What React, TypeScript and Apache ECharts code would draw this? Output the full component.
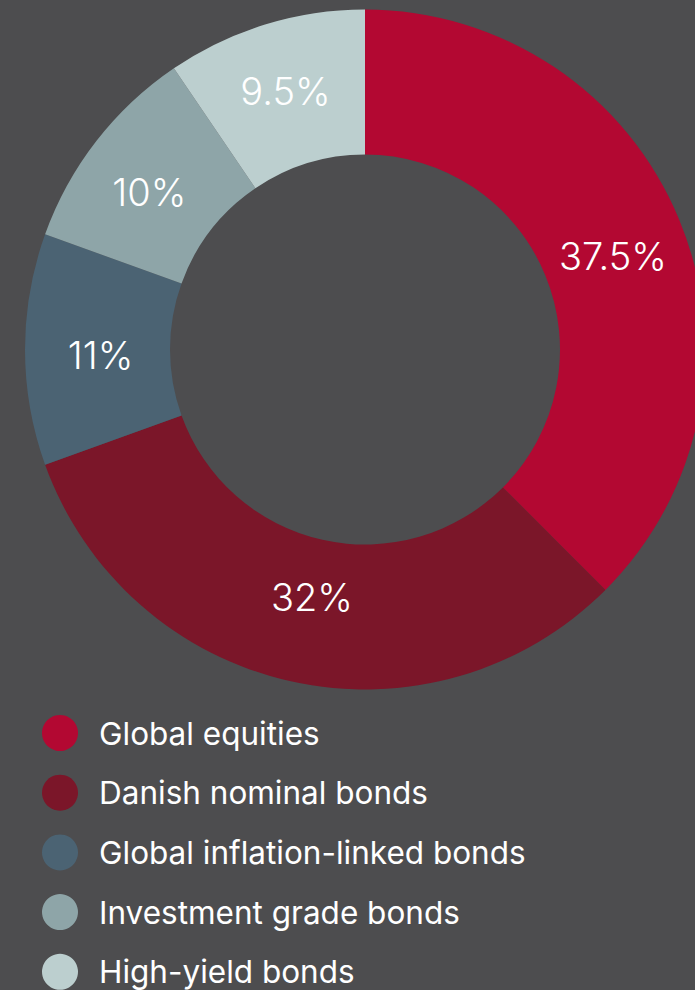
import React, { useEffect, useRef } from "react";
import * as echarts from "echarts";

const categories = [
  "Global equities",
  "Danish nominal bonds",
  "Global inflation-linked bonds",
  "Investment grade bonds",
  "High-yield bonds",
];
const values = [37.5, 32, 11, 10, 9.5];
const labels = ["37.5%", "32%", "11%", "10%", "9.5%"];
const colors = ["#b30832", "#7b1629", "#4b6373", "#8ea5a8", "#bccfcf"];
const labelOffsets = [[-2, 10], [6, -16], [6, 5], [-2, 8], [0, 0]];

export default function App() {
  const ref = useRef<HTMLDivElement>(null);
  useEffect(() => {
    if (!ref.current) return;
    const chart = echarts.init(ref.current, undefined, { renderer: "svg" });
    chart.setOption({
      animation: false,
      backgroundColor: "#4d4d4f",
      color: colors,
      legend: {
        orient: "vertical",
        left: 42,
        top: 715,
        height: 280,
        padding: 0,
        icon: "circle",
        itemWidth: 36,
        itemHeight: 36,
        itemGap: 23.7,
        selectedMode: false,
        textStyle: {
          color: "#ffffff",
          fontFamily: "Inter",
          fontSize: 31.5,
          lineHeight: 36,
          padding: [0, 0, 0, 16],
        },
        data: categories,
      },
      series: [
        {
          type: "pie",
          center: [365, 349.5],
          radius: [195, 340],
          startAngle: 90,
          clockwise: true,
          avoidLabelOverlap: false,
          label: {
            show: true,
            position: "inside",
            color: "#ffffff",
            fontFamily: "Inter",
            fontSize: 38,
            fontWeight: 300,
            formatter: (p: any) => labels[p.dataIndex],
          },
          labelLine: { show: false },
          emphasis: { disabled: true },
          itemStyle: { borderWidth: 0 },
          data: categories.map((name, i) => ({
            name,
            value: values[i],
            label: { offset: labelOffsets[i] },
          })),
        },
      ],
    });
    return () => chart.dispose();
  }, []);
  return (
    <div
      ref={ref}
      style={{ position: "fixed", left: 0, top: 0, width: 695, height: 990 }}
    />
  );
}
